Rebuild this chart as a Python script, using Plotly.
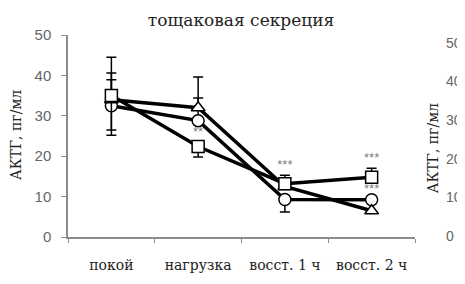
import plotly.graph_objects as go

categories = ["покой", "нагрузка", "восст. 1 ч", "восст. 2 ч"]

square_vals = [35, 22.4, 13.2, 14.8]
square_err_plus = [9.5, 0, 0, 2.2]
square_err_minus = [9.8, 2.6, 0, 0]

triangle_vals = [34, 32, 12.5, 6.5]
triangle_err_plus = [6.6, 7.6, 2.8, 0]
triangle_err_minus = [0, 0, 0, 0]

circle_vals = [32.5, 28.8, 9.3, 9.2]
circle_err_plus = [6.4, 5.6, 0, 0]
circle_err_minus = [6.0, 0, 3.1, 0]

star_labels = ["**", "***", "***", "***"]
star_cats = ["нагрузка", "восст. 1 ч", "восст. 2 ч", "восст. 2 ч"]
star_vals = [25.8, 17.6, 19.4, 11.6]

y_ticks = [0, 10, 20, 30, 40, 50]
title_text = "тощаковая секреция"
y_title = "АКТГ, пг/мл"

fig = go.Figure()

def add_series(vals, ep, em, symbol):
    fig.add_trace(go.Scatter(
        x=categories, y=vals, mode="lines+markers",
        line=dict(color="black", width=3.5),
        marker=dict(symbol=symbol, size=12, color="white",
                    line=dict(color="black", width=1.5)),
        error_y=dict(type="data", symmetric=False, array=ep, arrayminus=em,
                     color="black", thickness=1.5, width=5),
        showlegend=False, cliponaxis=False,
    ))

add_series(circle_vals, circle_err_plus, circle_err_minus, "circle")
add_series(triangle_vals, triangle_err_plus, triangle_err_minus, "triangle-up")
add_series(square_vals, square_err_plus, square_err_minus, "square")

fig.add_trace(go.Scatter(
    x=star_cats, y=star_vals, mode="text", text=star_labels,
    textfont=dict(family="Liberation Sans", size=13, color="#808080"),
    showlegend=False, cliponaxis=False,
))

# invisible trace on right axis
fig.add_trace(go.Scatter(x=categories, y=[None]*4, yaxis="y2",
                         showlegend=False, hoverinfo="skip"))

fig.update_layout(
    width=457, height=276,
    margin=dict(l=60, r=50, t=27, b=47, autoexpand=False),
    paper_bgcolor="white", plot_bgcolor="white",
    title=dict(text=title_text, x=0.51, xanchor="center", y=0.958, yanchor="middle",
               font=dict(family="DejaVu Serif", size=17, color="#222")),
    xaxis=dict(
        type="category", range=[-0.5, 3.5], tickson="boundaries",
        showline=True, linecolor="#8c8c8c", linewidth=1.5,
        ticks="outside", ticklen=4, tickcolor="#8c8c8c",
        showgrid=False, zeroline=False, automargin=False,
        tickfont=dict(family="DejaVu Serif", size=14, color="#222"),
        ticklabelstandoff=14,
    ),
    yaxis=dict(
        range=[0, 50], tickvals=y_ticks,
        showline=True, linecolor="#8c8c8c", linewidth=1.5,
        ticks="outside", ticklen=5, tickcolor="#8c8c8c",
        showgrid=False, zeroline=False, automargin=False,
        tickfont=dict(family="Liberation Sans", size=15, color="#666666"),
        ticklabelstandoff=7,
    ),
    yaxis2=dict(
        overlaying="y", side="right", range=[-0.26, 52.07], tickvals=y_ticks,
        showline=False, ticks="", showgrid=False, zeroline=False, automargin=False,
        tickfont=dict(family="Liberation Sans", size=14, color="#666666"),
        ticklabelstandoff=30,
    ),
    annotations=[
        dict(text=y_title, xref="paper", yref="paper", x=-0.15, y=0.505,
             textangle=-90, showarrow=False, xanchor="center", yanchor="middle",
             font=dict(family="DejaVu Serif", size=14, color="#222")),
        dict(text=y_title, xref="paper", yref="paper", x=1.052, y=0.44,
             textangle=-90, showarrow=False, xanchor="center", yanchor="middle",
             font=dict(family="DejaVu Serif", size=14, color="#222")),
    ],
)

fig.write_html("out.html")
